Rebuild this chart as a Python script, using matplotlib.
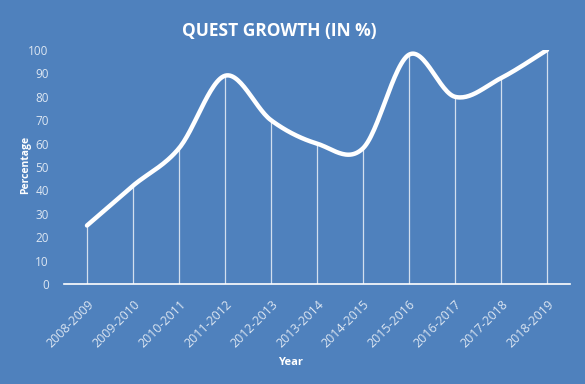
import matplotlib.pyplot as plt
import numpy as np

years = ["2008-2009", "2009-2010", "2010-2011", "2011-2012", "2012-2013", "2013-2014",
         "2014-2015", "2015-2016", "2016-2017", "2017-2018", "2018-2019"]
growth = [25, 42, 58, 89, 70, 60, 58, 98, 80, 88, 100]

BG = "#4f81bd"
TXT = "#dce6f2"


def smooth(x, y, n=30):
    # Excel-style smoothed line: cubic Bezier with Catmull-Rom control points
    x = np.asarray(x, float)
    y = np.asarray(y, float)
    xs, ys = [], []
    for i in range(len(x) - 1):
        p0 = np.array([x[max(i - 1, 0)], y[max(i - 1, 0)]])
        p1 = np.array([x[i], y[i]])
        p2 = np.array([x[i + 1], y[i + 1]])
        p3 = np.array([x[min(i + 2, len(x) - 1)], y[min(i + 2, len(x) - 1)]])
        c1 = p1 + (p2 - p0) / 6
        c2 = p2 - (p3 - p1) / 6
        t = np.linspace(0, 1, n)[:, None]
        pts = ((1 - t) ** 3 * p1 + 3 * (1 - t) ** 2 * t * c1
               + 3 * (1 - t) * t ** 2 * c2 + t ** 3 * p2)
        xs.extend(pts[:, 0])
        ys.extend(pts[:, 1])
    return np.array(xs), np.array(ys)


fig = plt.figure(figsize=(5.85, 3.84), dpi=100, facecolor=BG)
ax = fig.add_axes([0.1094, 0.2604, 0.8650, 0.6094])
ax.set_facecolor(BG)

xpos = np.arange(len(years))
ax.vlines(xpos, 0, growth, color="white", lw=0.9, alpha=0.75, zorder=2)
sx, sy = smooth(xpos, growth)
ax.plot(sx, sy, color="white", lw=3.2, solid_capstyle="round", zorder=3)

ax.set_xlim(-0.5, len(years) - 0.5)
ax.set_ylim(0, 100)
ax.set_yticks(range(0, 101, 10))
ax.set_xticks(xpos)
ax.set_xticklabels(years, rotation=45, ha="right", rotation_mode="anchor",
                   fontsize=9, color=TXT, family="Open Sans")
for lbl in ax.get_yticklabels():
    lbl.set_fontsize(8.5)
    lbl.set_color(TXT)
    lbl.set_family("Open Sans")
ax.tick_params(axis="x", length=0, pad=10)
ax.tick_params(axis="y", length=0, pad=11)

for side in ["top", "right", "left"]:
    ax.spines[side].set_visible(False)
ax.spines["bottom"].set_color("white")
ax.spines["bottom"].set_linewidth(1.2)

fig.text(0.478, 0.918, "QUEST GROWTH (IN %)", ha="center", va="center",
         fontsize=12.5, fontweight="bold", color="white", family="Open Sans")
fig.text(0.496, 0.055, "Year", ha="center", va="center", fontsize=8,
         fontweight="bold", color="white", family="Open Sans")
fig.text(0.043, 0.57, "Percentage", ha="center", va="center", rotation=90,
         fontsize=7.5, fontweight="bold", color="white", family="Open Sans")

fig.savefig("out.png", dpi=100, facecolor=BG)
